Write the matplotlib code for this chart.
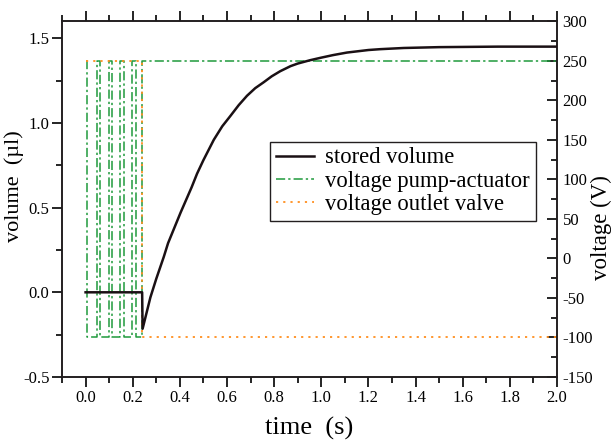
import matplotlib
matplotlib.use('Agg')
import matplotlib.pyplot as plt
from matplotlib.ticker import MultipleLocator

plt.rcParams['font.family'] = 'Liberation Serif'

# stored volume (ul) vs time (s)
t_vol = [0.0, 0.24, 0.242, 0.275, 0.30, 0.332, 0.35, 0.403, 0.45, 0.473, 0.50,
         0.544, 0.58, 0.614, 0.65, 0.685, 0.72, 0.756, 0.79, 0.826, 0.87, 0.90,
         0.953, 1.0, 1.05, 1.109, 1.2, 1.25, 1.35, 1.5, 1.75, 2.0]
vol = [0.0, 0.0, -0.215, -0.03, 0.08, 0.21, 0.29, 0.47, 0.62, 0.70, 0.78,
       0.90, 0.98, 1.04, 1.105, 1.16, 1.205, 1.24, 1.275, 1.305, 1.335, 1.35,
       1.37, 1.385, 1.40, 1.415, 1.43, 1.435, 1.442, 1.447, 1.45, 1.45]

# pump actuator voltage (V): switching instants and levels
t_pump = [0.0, 0.004, 0.004, 0.05, 0.05, 0.06, 0.06, 0.099, 0.099, 0.113, 0.113,
          0.148, 0.148, 0.162, 0.162, 0.197, 0.197, 0.212, 0.212, 0.24, 0.24, 2.0]
u_pump = [250, 250, -100, -100, 250, 250, -100, -100, 250, 250, -100,
          -100, 250, 250, -100, -100, 250, 250, -100, -100, 250, 250]

# outlet valve voltage (V)
t_valve = [0.0, 0.24, 0.24, 2.0]
u_valve = [250, 250, -100, -100]

fig = plt.figure(figsize=(6.14, 4.42), dpi=100)
ax = fig.add_axes([0.101, 0.147, 0.806, 0.805])
ax2 = ax.twinx()

l1, = ax.plot(t_vol, vol, color='#1a1014', lw=1.8, zorder=5)
l2, = ax2.plot(t_pump, u_pump, color='#1f9a3c', lw=1.1, ls=(0, (6, 2, 1.5, 2)))
l3, = ax2.plot(t_valve, u_valve, color='#ff8f1f', lw=1.3, ls=(0, (1.2, 2.8)))
ax.set_zorder(ax2.get_zorder() + 1)
ax.patch.set_visible(False)

ax.set_xlim(-0.1, 2.0)
ax.set_ylim(-0.5, 1.6)
ax2.set_ylim(-150, 300)

ax.xaxis.set_major_locator(MultipleLocator(0.2))
ax.xaxis.set_minor_locator(MultipleLocator(0.1))
ax.yaxis.set_major_locator(MultipleLocator(0.5))
ax.yaxis.set_minor_locator(MultipleLocator(0.25))
ax2.yaxis.set_major_locator(MultipleLocator(50))
ax2.yaxis.set_minor_locator(MultipleLocator(25))
ax.xaxis.set_major_formatter(plt.FuncFormatter(lambda v, p: f'{v:.1f}'))
ax.yaxis.set_major_formatter(plt.FuncFormatter(lambda v, p: f'{v:.1f}'))
ax2.yaxis.set_major_formatter(plt.FuncFormatter(lambda v, p: f'{v:.0f}'))

ax.tick_params(which='both', direction='out', top=True, labelsize=12, width=1.2, pad=2)
ax.tick_params(which='major', length=7)
ax.tick_params(which='minor', length=4)
ax2.tick_params(which='both', direction='in', labelsize=12, width=1.2, pad=4)
ax2.tick_params(which='major', length=7)
ax2.tick_params(which='minor', length=4)
for a in (ax, ax2):
    for s in a.spines.values():
        s.set_linewidth(1.2)
        s.set_color('#231f20')

ax.set_xlabel('time  (s)', fontsize=19, labelpad=8)
ax.set_ylabel('volume  (µl)', fontsize=16)
ax.yaxis.set_label_coords(-0.077, 0.537)
ax2.set_ylabel('voltage (V)', fontsize=16.5)
ax2.yaxis.set_label_coords(1.068, 0.42)

leg = ax.legend([l1, l2, l3], ['stored volume', 'voltage pump-actuator', 'voltage outlet valve'],
                loc='upper left', bbox_to_anchor=(0.42, 0.661), fontsize=16.3,
                fancybox=False, framealpha=1, edgecolor='#231f20',
                handlelength=1.7, handletextpad=0.5, borderpad=0.25, labelspacing=0.1,
                borderaxespad=0)
leg.get_frame().set_linewidth(1.0)

fig.savefig('out.png', dpi=100)
